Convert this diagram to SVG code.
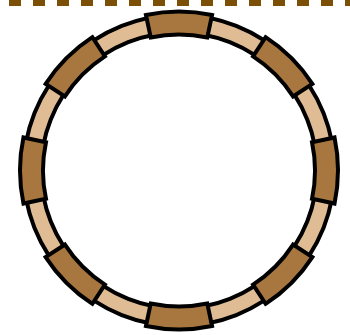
<svg xmlns="http://www.w3.org/2000/svg" xmlns:xlink="http://www.w3.org/1999/xlink" width="350" height="335" viewBox="0 0 350 335">
  <style>
    .dash { stroke: #7b5006; stroke-width: 6; stroke-dasharray: 12 12; fill: none; }
    .band { fill: #e0bc95; stroke: #000; stroke-width: 4; }
    .hole { fill: #fff; stroke: #000; stroke-width: 4; }
    .block { fill: #a8773f; stroke: #000; stroke-width: 4; stroke-linejoin: miter; }
  </style>
  <defs>
    <path id="blk" d="M -33.06 -155.53 A 159 159 0 0 1 33.06 -155.53 L 28.28 -133.03 A 136 136 0 0 0 -28.28 -133.03 Z"/>
  </defs>
  <rect width="350" height="335" fill="#fff"/>
  <g id="dashed-line">
    <line class="dash" x1="9" y1="3" x2="350" y2="3"/>
  </g>
  <g id="ring" transform="translate(179 170.5)">
    <circle class="band" r="155.5"/>
    <circle class="hole" r="138"/>
    <g id="block-0"><use xlink:href="#blk" class="block"/></g>
    <g id="block-45"><use xlink:href="#blk" class="block" transform="rotate(45)"/></g>
    <g id="block-90"><use xlink:href="#blk" class="block" transform="rotate(90)"/></g>
    <g id="block-135"><use xlink:href="#blk" class="block" transform="rotate(135)"/></g>
    <g id="block-180"><use xlink:href="#blk" class="block" transform="rotate(180)"/></g>
    <g id="block-225"><use xlink:href="#blk" class="block" transform="rotate(225)"/></g>
    <g id="block-270"><use xlink:href="#blk" class="block" transform="rotate(270)"/></g>
    <g id="block-315"><use xlink:href="#blk" class="block" transform="rotate(315)"/></g>
  </g>
</svg>
